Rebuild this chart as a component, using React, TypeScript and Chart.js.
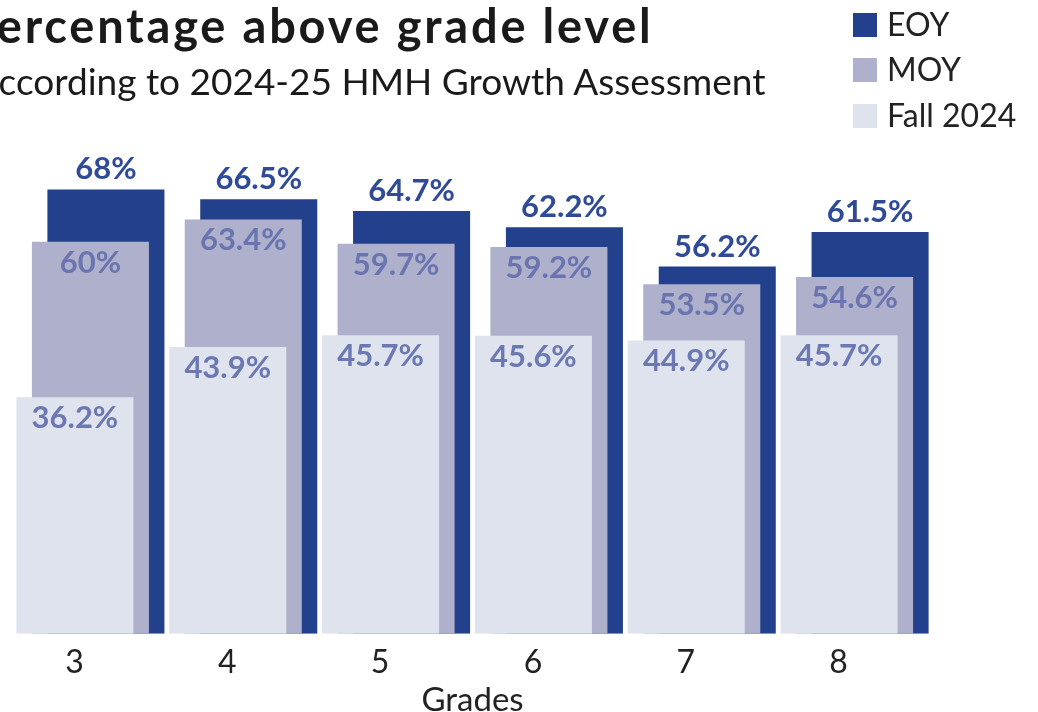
import { useEffect, useRef } from "react";
import { Chart, registerables } from "chart.js";

Chart.register(...registerables);

const grades = ["3", "4", "5", "6", "7", "8"];
const fall2024 = [36.2, 43.9, 45.7, 45.6, 44.9, 45.7];
const moy = [60, 63.4, 59.7, 59.2, 53.5, 54.6];
const eoy = [68, 66.5, 64.7, 62.2, 56.2, 61.5];

const seriesNames = ["Fall 2024", "MOY", "EOY"];
const seriesColors = ["#dfe3ee", "#aeb0cc", "#22408b"];
const labelColors = ["#6c78b2", "#6a75af", "#2f4a97"];

const FONT = "Lato, 'DejaVu Sans', sans-serif";

const barLabels = {
  id: "barLabels",
  afterDatasetsDraw(chart: any) {
    const ctx = chart.ctx;
    ctx.save();
    ctx.font = `bold 31px ${FONT}`;
    ctx.textAlign = "center";
    ctx.textBaseline = "alphabetic";
    chart.data.datasets.forEach((ds: any, di: number) => {
      const meta = chart.getDatasetMeta(di);
      meta.data.forEach((bar: any, i: number) => {
        const v = ds.data[i];
        const text = `${v}%`;
        ctx.fillStyle = labelColors[di];
        const y = di === 2 ? bar.y - 10 : bar.y + 31;
        ctx.fillText(text, bar.x, y);
      });
    });
    ctx.restore();
  },
};

export default function App() {
  const canvasRef = useRef<HTMLCanvasElement | null>(null);

  useEffect(() => {
    if (!canvasRef.current) return;
    const chart = new Chart(canvasRef.current, {
      type: "bar",
      data: {
        labels: grades,
        datasets: [
          { label: seriesNames[0], data: fall2024, backgroundColor: seriesColors[0] },
          { label: seriesNames[1], data: moy, backgroundColor: seriesColors[1] },
          { label: seriesNames[2], data: eoy, backgroundColor: seriesColors[2] },
        ],
      },
      options: {
        responsive: false,
        animation: false,
        devicePixelRatio: 1,
        categoryPercentage: 0.3043,
        barPercentage: 7.55,
        layout: { padding: { left: 14, right: 107, top: 111, bottom: 0 } },
        plugins: {
          legend: { display: false },
          tooltip: { enabled: false },
          title: { display: false },
        },
        scales: {
          x: {
            grid: { display: false, drawTicks: false },
            border: { display: false },
            ticks: {
              color: "#222222",
              font: { family: FONT, size: 32 },
              padding: 9.3,
              labelOffset: -16,
            },
            title: {
              display: true,
              text: "Grades",
              color: "#222222",
              font: { family: FONT, size: 33, lineHeight: 0.55 },
              padding: { top: 0, bottom: 3 },
            },
          },
          y: {
            display: false,
            min: 0,
            max: 80,
          },
        },
      },
      plugins: [barLabels],
    } as any);
    return () => chart.destroy();
  }, []);

  const legendItems = [
    { name: seriesNames[2], color: seriesColors[2], top: 13 },
    { name: seriesNames[1], color: seriesColors[1], top: 58 },
    { name: seriesNames[0], color: seriesColors[0], top: 104 },
  ];

  return (
    <div
      style={{
        position: "fixed",
        left: 0,
        top: 0,
        width: 1038,
        height: 712,
        overflow: "hidden",
        background: "#ffffff",
        fontFamily: FONT,
      }}
    >
      <canvas
        ref={canvasRef}
        width={1038}
        height={712}
        style={{ position: "absolute", left: 0, top: 0, width: 1038, height: 712 }}
      />
      <div
        style={{
          position: "absolute",
          left: -34,
          top: 2,
          fontSize: 47,
          lineHeight: 1,
          fontWeight: 700,
          letterSpacing: 2.8,
          color: "#1a1a1a",
          whiteSpace: "nowrap",
        }}
      >
        Percentage above grade level
      </div>
      <div
        style={{
          position: "absolute",
          left: -26,
          top: 62,
          fontSize: 37,
          lineHeight: 1,
          fontWeight: 400,
          color: "#1a1a1a",
          whiteSpace: "nowrap",
        }}
      >
        According to 2024-25 HMH Growth Assessment
      </div>
      {legendItems.map((it) => (
        <div key={it.name}>
          <div
            style={{
              position: "absolute",
              left: 853,
              top: it.top,
              width: 24,
              height: 24,
              background: it.color,
            }}
          />
          <div
            style={{
              position: "absolute",
              left: 887,
              top: it.top - 5,
              fontSize: 32,
              lineHeight: 1,
              color: "#222222",
              whiteSpace: "nowrap",
            }}
          >
            {it.name}
          </div>
        </div>
      ))}
    </div>
  );
}
